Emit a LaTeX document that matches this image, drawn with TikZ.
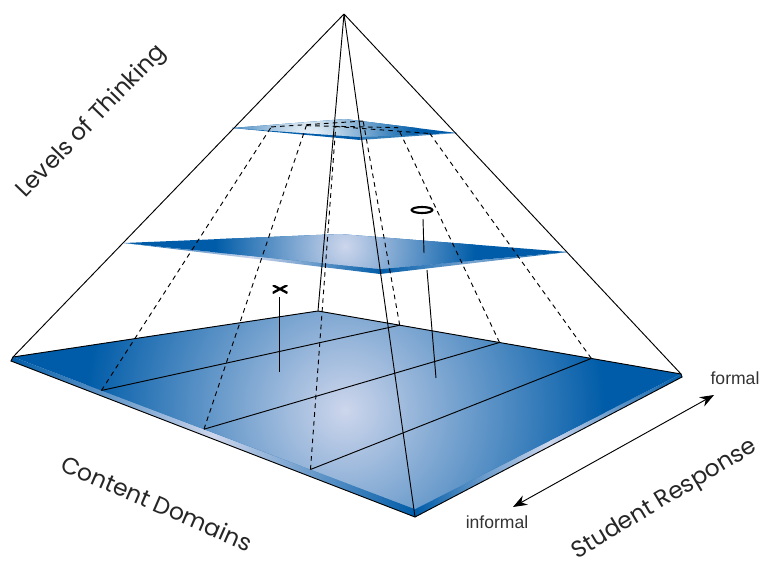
\documentclass[tikz,border=0pt]{standalone}
\usepackage{fontspec}
\setmainfont{Liberation Sans}
\newfontfamily\labelfont{Poppins}
\usetikzlibrary{calc,arrows.meta,shapes.geometric}

\definecolor{plateblue}{RGB}{0,92,168}
\definecolor{platelight}{RGB}{205,214,236}

\tikzset{
  grid line/.style={black, line width=0.8pt},
  guide line/.style={black, line width=0.8pt, dash pattern=on 4pt off 3.5pt},
  axis label/.style={font=\labelfont\fontsize{20}{22}\selectfont, text=black!85, inner sep=0pt},
  end label/.style={font=\fontsize{15}{17}\selectfont, text=black!80, inner sep=0pt},
  xmarker/.style={minimum width=0.45cm, minimum height=0.24cm, inner sep=0pt,
    path picture={\draw[line width=2pt]
      (path picture bounding box.north west) -- (path picture bounding box.south east)
      (path picture bounding box.south west) -- (path picture bounding box.north east);}},
  omarker/.style={draw, ellipse, line width=1.8pt, minimum width=0.62cm, minimum height=0.18cm, inner sep=0pt},
  side/.style={left color=plateblue, right color=plateblue, middle color=platelight},
}

\begin{document}
\begin{tikzpicture}[x=0.03cm, y=-0.03cm]
    \useasboundingbox (0,0) rectangle (764,565);

    % pyramid corners
    \coordinate (apex) at (344,14);
    \coordinate (bL) at (13,357);
    \coordinate (bLs) at (11,361);
    \coordinate (bB) at (318,311);
    \coordinate (bR) at (681,374);
    \coordinate (bRs) at (682,377);
    \coordinate (bF) at (415,509);
    \coordinate (bFs) at (415,517);
    % middle level
    \coordinate (mL) at (124,243);
    \coordinate (mB) at (340,234);
    \coordinate (mR) at (568,252);
    \coordinate (mF) at (380,269);
    \coordinate (mFs) at (380,274);
    % top level
    \coordinate (tL) at (232,128);
    \coordinate (tB) at (345,119);
    \coordinate (tR) at (457,133);
    \coordinate (tF) at (360,137);
    \coordinate (tFs) at (360,140);

    % base plate
    \shade[side] (bL) -- (bF) -- (bFs) -- (bLs) -- cycle;
    \shade[side] (bF) -- (bR) -- (bRs) -- (bFs) -- cycle;
    \begin{scope}
        \clip (bL) -- (bB) -- (bR) -- (bF) -- cycle;
        \fill[plateblue] (bL) -- (bB) -- (bR) -- (bF) -- cycle;
        \shade[inner color=platelight, outer color=plateblue] (345,410) circle (260);
    \end{scope}

    % middle plate
    \shade[side] (mL) -- (mF) -- (mFs) -- cycle;
    \shade[left color=plateblue, right color=plateblue, middle color=platelight!60!plateblue] (mF) -- (mR) -- (mFs) -- cycle;
    \begin{scope}
        \clip (mL) -- (mB) -- (mR) -- (mF) -- cycle;
        \fill[plateblue] (mL) -- (mB) -- (mR) -- (mF) -- cycle;
        \shade[inner color=platelight, outer color=plateblue] (345,246) circle (130);
    \end{scope}

    % top plate
    \fill[plateblue] (tL) -- (tF) -- (tFs) -- cycle;
    \fill[plateblue!80!white] (tF) -- (tR) -- (tFs) -- cycle;
    \begin{scope}
        \clip (tL) -- (tB) -- (tR) -- (tF) -- cycle;
        \fill[plateblue] (tL) -- (tB) -- (tR) -- (tF) -- cycle;
        \shade[inner color=white, outer color=plateblue] (308,142) circle (110);
    \end{scope}

    % grid on the base
    \coordinate (P1) at ($(bL)!0.22!(bF)$);
    \coordinate (P2) at ($(bL)!0.475!(bF)$);
    \coordinate (P3) at ($(bL)!0.74!(bF)$);
    \coordinate (Q1) at ($(bB)!0.225!(bR)$);
    \coordinate (Q2) at ($(bB)!0.5!(bR)$);
    \coordinate (Q3) at ($(bB)!0.753!(bR)$);
    \draw[grid line] (P1) -- (Q1) (P2) -- (Q2) (P3) -- (Q3);

    % the same grid lifted to the top level
    \coordinate (P1t) at ($(P1)!0.70!(apex)$);
    \coordinate (P2t) at ($(P2)!0.731!(apex)$);
    \coordinate (P3t) at ($(P3)!0.753!(apex)$);
    \coordinate (Q1t) at ($(Q1)!0.656!(apex)$);
    \coordinate (Q2t) at ($(Q2)!0.654!(apex)$);
    \coordinate (Q3t) at ($(Q3)!0.653!(apex)$);
    \foreach \g in {P1,P2,P3,Q1,Q2,Q3}
        \draw[guide line] (\g) -- (\g t);
    \draw[guide line] (P1t) -- (Q1t) (P2t) -- (Q2t) (P3t) -- (Q3t);

    % pyramid edges
    \draw[grid line] (bLs) -- (bL) -- (bB) -- (bR) -- (bRs) -- (bFs) -- cycle;
    \draw[grid line] (apex) -- (bL) (apex) -- (bR) (apex) -- (bB) (apex) -- (bFs);

    % responses
    \node[xmarker] (xsign) at (280,289) {};
    \coordinate (xtop) at (279,297);
    \coordinate (xfoot) at (279,372);
    \draw[grid line] (xtop) -- (xfoot);
    \node[omarker] (osign) at (422,210) {};
    \coordinate (otop) at (423,219);
    \coordinate (omid) at (424,253);
    \coordinate (olow) at (427,270);
    \coordinate (ofoot) at (436,378);
    \draw[grid line] (otop) -- (omid) (olow) -- (ofoot);

    % response axis
    \coordinate (lowend) at (513,507);
    \coordinate (highend) at (714,395);
    \draw[line width=0.8pt, {Stealth[length=12pt,width=9pt]}-{Stealth[length=12pt,width=9pt]}] (lowend) -- (highend);
    \node[end label] (formal) at (735,378) {formal};
    \node[end label] (informal) at (497,522) {informal};

    \node[axis label, rotate=46] (levels) at (92,122) {Levels of Thinking};
    \node[axis label, rotate=-23.5] (domains) at (157,503) {Content Domains};
    \node[axis label, rotate=31] (response) at (665,500) {Student Response};
\end{tikzpicture}
\end{document}
